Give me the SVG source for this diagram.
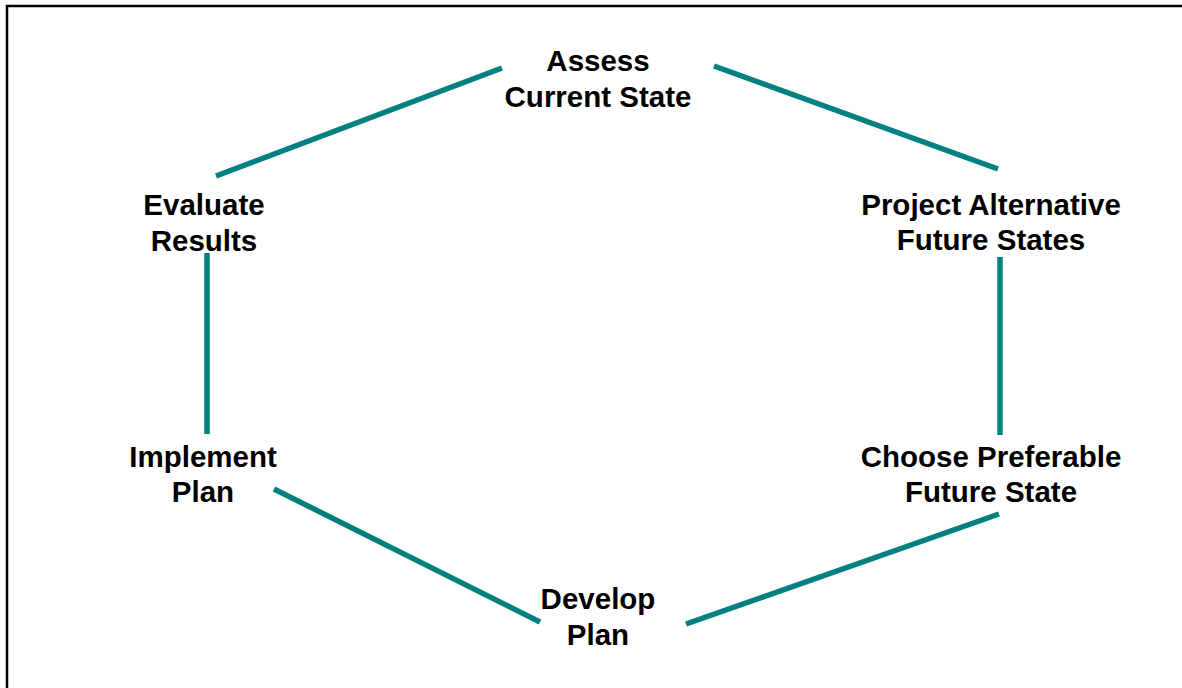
<svg xmlns="http://www.w3.org/2000/svg" width="1182" height="688" viewBox="0 0 1182 688">
<style>
.lbl{font-family:"Liberation Sans",Arial,sans-serif;font-weight:bold;font-size:29.5px;fill:#000;text-anchor:middle}
.con line{stroke:#008080;stroke-width:5.5;stroke-linecap:butt}
</style>
<rect x="0" y="0" width="1182" height="688" fill="#fff"/>
<rect x="7" y="6" width="1190" height="700" fill="none" stroke="#000" stroke-width="2.5"/>
<g id="connectors" class="con">
<line x1="216" y1="176" x2="502" y2="68"/>
<line x1="714" y1="66" x2="998" y2="169"/>
<line x1="1000" y1="257" x2="1000" y2="435"/>
<line x1="999" y1="514" x2="686" y2="624"/>
<line x1="540" y1="622" x2="274" y2="489"/>
<line x1="207" y1="434" x2="207" y2="253"/>
</g>
<g id="assess"><text class="lbl" x="598" y="71">Assess</text><text class="lbl" x="598" y="107">Current State</text></g>
<g id="project"><text class="lbl" x="991" y="215">Project Alternative</text><text class="lbl" x="991" y="250">Future States</text></g>
<g id="choose"><text class="lbl" x="991" y="467">Choose Preferable</text><text class="lbl" x="991" y="502">Future State</text></g>
<g id="develop"><text class="lbl" x="598" y="609">Develop</text><text class="lbl" x="598" y="645">Plan</text></g>
<g id="implement"><text class="lbl" x="203" y="467">Implement</text><text class="lbl" x="203" y="502">Plan</text></g>
<g id="evaluate"><text class="lbl" x="204" y="215">Evaluate</text><text class="lbl" x="204" y="251">Results</text></g>
</svg>
